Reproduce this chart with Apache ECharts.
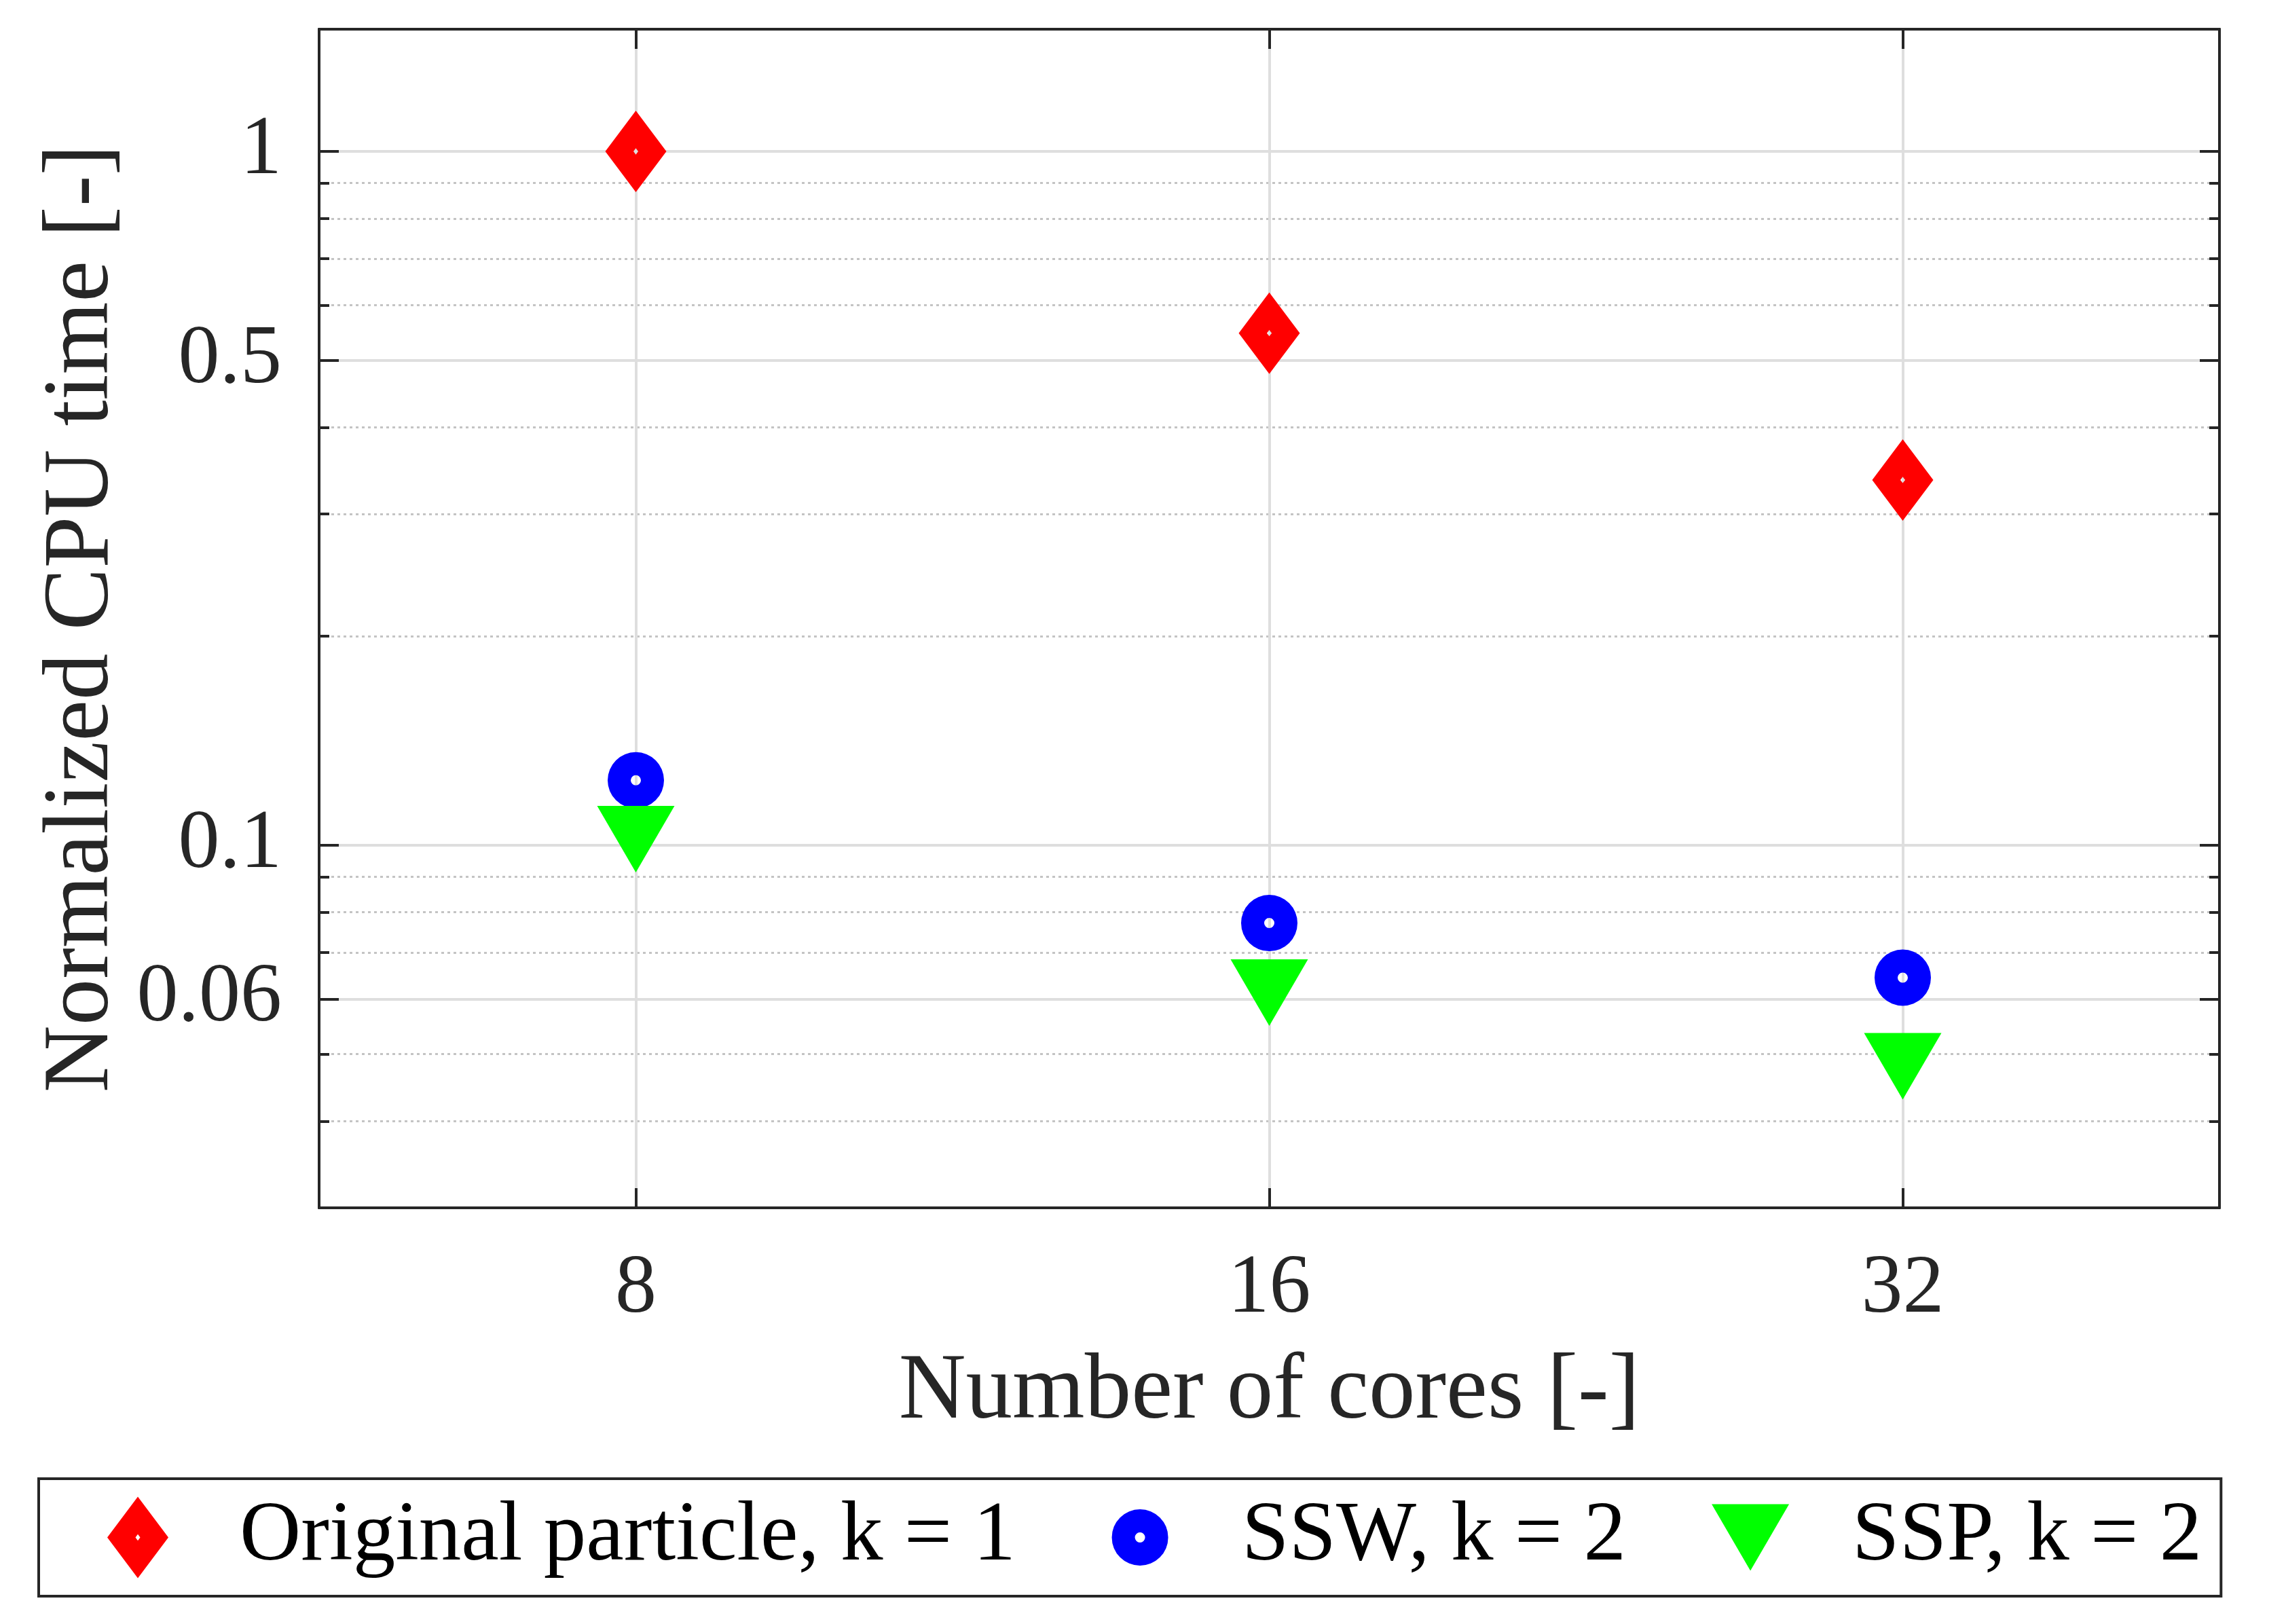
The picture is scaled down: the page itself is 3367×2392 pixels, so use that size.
<!DOCTYPE html>
<html>
<head>
<meta charset="utf-8">
<script src="https://cdn.jsdelivr.net/npm/echarts@6/dist/echarts.min.js"></script>
<style>
  html, body { margin: 0; padding: 0; background: #fff; }
  #main { width: 3367px; height: 2392px; }
</style>
</head>
<body>
<div id="main"></div>
<script>
// 数据
const cores = ['8', '16', '32'];
const originalTime = [1.0, 0.547, 0.336];
const sswTime = [0.124, 0.0772, 0.0644];
const sspTime = [0.102, 0.0613, 0.048];

// 刻度
const majorTicks = [0.06, 0.1, 0.5, 1];
const minorTicks = [0.04, 0.05, 0.07, 0.08, 0.09, 0.2, 0.3, 0.4, 0.6, 0.7, 0.8, 0.9];

const serif = '"Liberation Serif", "Times New Roman", serif';
const ink = '#262626';

// 标记形状（120x120 画框，带中心小孔）
const diamondPath = 'path://M0 0M120 120M60 0L105 60L60 120L15 60ZM60 55.3L56.5 60L60 64.7L63.5 60Z';
const ringPath = 'path://M0 0M120 120M18.5 60A41.5 41.5 0 1 1 101.5 60A41.5 41.5 0 1 1 18.5 60ZM52.5 60A7.5 7.5 0 1 0 67.5 60A7.5 7.5 0 1 0 52.5 60Z';
const trianglePath = 'path://M0 0M120 120M3 11L117 11L60 109Z';

const majorGrid = { color: '#dedede', width: 4, type: 'solid' };
const minorGrid = { color: '#c4c4c4', width: 3, type: [4, 5] };

function yAxisFor(position, values, tickLen, grid, showLabel) {
    return {
        type: 'log',
        logBase: 10,
        min: 0.03,
        max: 1.5,
        position: position,
        axisLine: { show: true, lineStyle: { color: ink, width: 4 } },
        axisTick: {
            show: true, inside: true, length: tickLen, customValues: values,
            lineStyle: { color: ink, width: 4 }
        },
        axisLabel: {
            show: showLabel, customValues: values, margin: 55,
            fontFamily: serif, fontSize: 122, color: ink,
            formatter: v => String(+(+v).toPrecision(4))
        },
        splitLine: grid ? { show: true, lineStyle: grid } : { show: false },
        minorTick: { show: false },
        minorSplitLine: { show: false }
    };
}

function xAxisFor(position, showLabel) {
    return {
        type: 'category',
        data: cores,
        position: position,
        boundaryGap: true,
        axisLine: { show: true, lineStyle: { color: ink, width: 4 } },
        axisTick: {
            show: true, inside: true, length: 29, alignWithLabel: true, interval: 0,
            lineStyle: { color: ink, width: 4 }
        },
        axisLabel: {
            show: showLabel, margin: 60, interval: 0,
            fontFamily: serif, fontSize: 122, color: ink
        },
        splitLine: position === 'bottom'
            ? { show: true, alignWithLabel: true, interval: 0, lineStyle: majorGrid }
            : { show: false }
    };
}

const xBottom = xAxisFor('bottom', true);
xBottom.name = 'Number of cores [-]';
xBottom.nameLocation = 'middle';
xBottom.nameGap = 205;
xBottom.nameTextStyle = { fontFamily: serif, fontSize: 137, color: ink };

const yLeft = yAxisFor('left', majorTicks, 29, majorGrid, true);
yLeft.name = 'Normalized CPU time [-]';
yLeft.nameLocation = 'middle';
yLeft.nameGap = 276;
yLeft.nameTextStyle = { fontFamily: serif, fontSize: 137, color: ink };

const chart = echarts.init(document.getElementById('main'), null, { renderer: 'canvas' });

const option = {
    backgroundColor: '#fff',
    animation: false,
    grid: { left: 470, right: 98, top: 43, bottom: 613, outerBoundsMode: 'none' },
    xAxis: [xBottom, xAxisFor('top', false)],
    yAxis: [
        yLeft,
        yAxisFor('right', majorTicks, 29, null, false),
        yAxisFor('left', minorTicks, 15, minorGrid, false),
        yAxisFor('right', minorTicks, 15, null, false)
    ],
    legend: {
        left: 57,
        top: 2178,
        orient: 'horizontal',
        padding: [24, 28, 24, 86],
        itemGap: 123,
        itemWidth: 290,
        itemHeight: 120,
        symbolKeepAspect: true,
        borderColor: ink,
        borderWidth: 4,
        borderRadius: 0,
        backgroundColor: '#fff',
        textStyle: { fontFamily: serif, fontSize: 125, color: '#000' },
        data: ['Original particle, k = 1', 'SSW, k = 2', 'SSP, k = 2']
    },
    series: [
        {
            name: 'Original particle, k = 1',
            type: 'scatter',
            data: originalTime,
            symbol: diamondPath,
            symbolSize: 120,
            symbolKeepAspect: true,
            itemStyle: { color: '#ff0000', opacity: 1 }
        },
        {
            name: 'SSW, k = 2',
            type: 'scatter',
            data: sswTime,
            symbol: ringPath,
            symbolSize: 120,
            symbolKeepAspect: true,
            itemStyle: { color: '#0000ff', opacity: 1 }
        },
        {
            name: 'SSP, k = 2',
            type: 'scatter',
            data: sspTime,
            symbol: trianglePath,
            symbolSize: 120,
            symbolKeepAspect: true,
            itemStyle: { color: '#00ff00', opacity: 1 }
        }
    ]
};

chart.setOption(option);
</script>
</body>
</html>
